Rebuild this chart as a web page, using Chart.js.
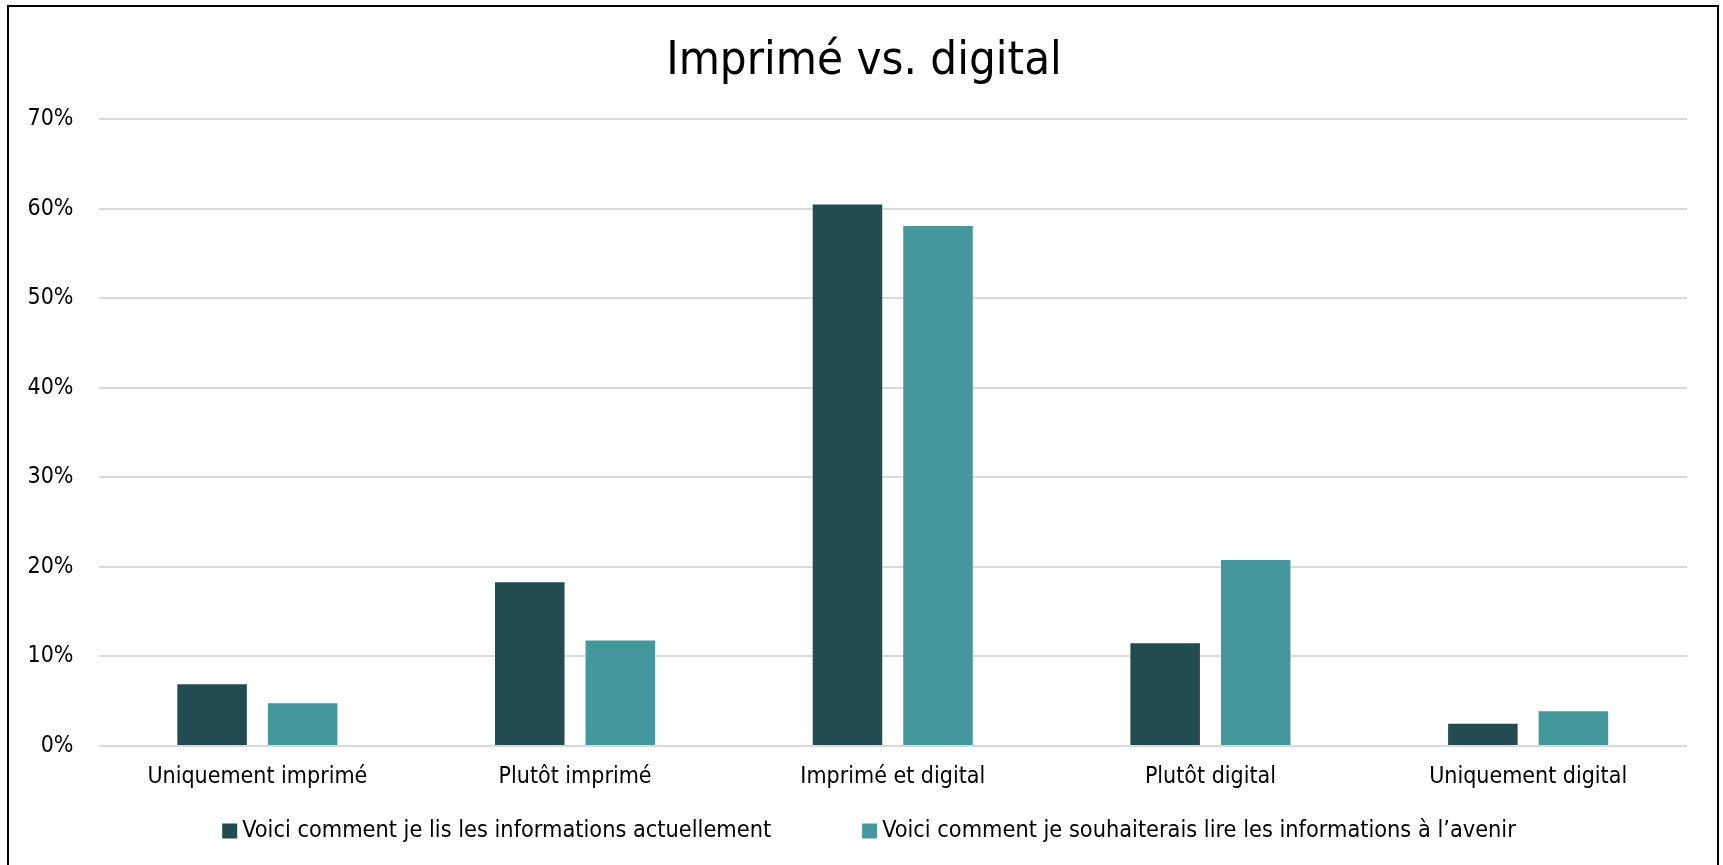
<!DOCTYPE html>
<html lang="fr">
<head>
<meta charset="utf-8">
<title>Imprimé vs. digital</title>
<script src="https://cdn.jsdelivr.net/npm/chart.js@4/dist/chart.umd.min.js"></script>
<style>
  html, body { margin: 0; padding: 0; background: #fff; overflow: hidden; }
  #wrap { position: relative; width: 1723px; height: 865px; }
  #frame { position: absolute; left: 7px; top: 5px; width: 1712px; height: 900px;
           border: 2px solid #000; box-sizing: border-box; pointer-events: none; }
  canvas { display: block; }
</style>
</head>
<body>
<div id="wrap">
  <canvas id="c" width="1723" height="865"></canvas>
  <div id="frame"></div>
</div>
<script>
const TITLE = 'Imprimé vs. digital';
const categories = ['Uniquement imprimé', 'Plutôt imprimé', 'Imprimé et digital', 'Plutôt digital', 'Uniquement digital'];
const seriesNames = ['Voici comment je lis les informations actuellement', 'Voici comment je souhaiterais lire les informations à l’avenir'];
const currentValues = [7.0, 18.4, 60.6, 11.6, 2.6];
const futureValues = [4.9, 11.9, 58.2, 20.9, 4.0];
const yTicks = [0, 10, 20, 30, 40, 50, 60, 70];

const FONT = '"DejaVu Sans Condensed", "DejaVu Sans", Tahoma, sans-serif';
const DARK = '#234C50';
const TEAL = '#45979E';
const TEXT_SIZE = 23;
const LEGEND_SIZE = 23.3;

// let the y tick labels use the whole left margin (no clipping)
const axisAreaPlugin = {
  id: 'axisArea',
  afterLayout(chart) { chart.scales.y.left = 0; }
};

const legendPlugin = {
  id: 'bottomLegend',
  afterDraw(chart) {
    const ctx = chart.ctx;
    ctx.save();
    ctx.font = LEGEND_SIZE + 'px ' + FONT;
    ctx.textBaseline = 'middle';
    ctx.textAlign = 'left';
    const box = 15, boxGap = 5, itemGap = 91;
    const items = chart.data.datasets.map(d => ({ text: d.label, color: d.backgroundColor, w: ctx.measureText(d.label).width }));
    let total = 0;
    items.forEach((it, i) => { total += box + boxGap + it.w + (i ? itemGap : 0); });
    let x = 869 - total / 2;
    const cy = 831;
    items.forEach(it => {
      ctx.fillStyle = it.color;
      ctx.fillRect(x, cy - box / 2, box, box);
      ctx.fillStyle = '#000';
      ctx.fillText(it.text, x + box + boxGap, cy);
      x += box + boxGap + it.w + itemGap;
    });
    ctx.restore();
  }
};

new Chart(document.getElementById('c'), {
  type: 'bar',
  data: {
    labels: categories,
    datasets: [
      { label: seriesNames[0], data: currentValues, backgroundColor: DARK,
        borderColor: 'rgba(255,255,255,0.45)', borderWidth: 1,
        categoryPercentage: 0.57, barPercentage: 0.79 },
      { label: seriesNames[1], data: futureValues, backgroundColor: TEAL,
        borderColor: 'rgba(255,255,255,0.45)', borderWidth: 1,
        categoryPercentage: 0.57, barPercentage: 0.79 }
    ]
  },
  options: {
    responsive: false,
    animation: false,
    layout: { padding: { top: 0, right: 36, bottom: 74, left: 41 } },
    plugins: {
      legend: { display: false },
      tooltip: { enabled: false },
      title: {
        display: true, text: TITLE, color: '#000',
        font: { family: FONT, size: 47, weight: 'normal' },
        padding: { top: 34, bottom: 29 }
      }
    },
    scales: {
      x: {
        grid: { display: false, drawTicks: false },
        border: { display: false },
        ticks: { color: '#000', font: { family: FONT, size: TEXT_SIZE }, padding: 17, maxRotation: 0, autoSkip: false },
        afterFit(s) { s.height = 45; }
      },
      y: {
        min: 0, max: 70,
        afterBuildTicks(s) { s.ticks = yTicks.map(v => ({ value: v })); },
        grid: { color: '#d9d9d9', lineWidth: 2, drawTicks: false },
        border: { display: false },
        ticks: { color: '#000', font: { family: FONT, size: TEXT_SIZE }, padding: 25, callback: v => v + '%' },
        afterFit(s) { s.width = 57.5; }
      }
    }
  },
  plugins: [axisAreaPlugin, legendPlugin]
});
</script>
</body>
</html>
